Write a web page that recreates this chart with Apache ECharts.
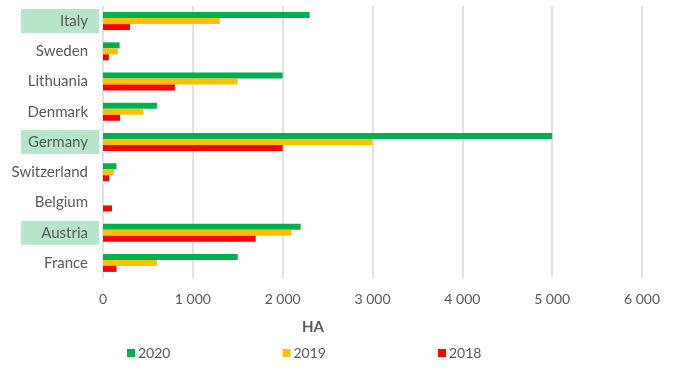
<!DOCTYPE html>
<html><head><meta charset="utf-8">
<script src="https://cdn.jsdelivr.net/npm/echarts@6/dist/echarts.min.js"></script>
<style>html,body{margin:0;padding:0;background:#fff}#c{width:690px;height:369px}</style>
</head><body><div id="c"></div>
<script>
const categories = ['Italy','Sweden','Lithuania','Denmark','Germany','Switzerland','Belgium','Austria','France'];
const highlighted = ['Italy','Germany','Austria'];
const s2020 = [2300, 185, 2000, 600, 5000, 150, 0, 2200, 1500];
const s2019 = [1300, 165, 1500, 450, 3000, 120, 0, 2100, 600];
const s2018 = [300, 65, 800, 190, 2000, 70, 100, 1700, 150];
const seriesNames = ['2020','2019','2018'];
const colors = ['#00B050','#FFC000','#FF0000'];
const axisName = 'HA';

const FONT = 'Lato';
const chart = echarts.init(document.getElementById('c'));
const data = [s2020, s2019, s2018];
chart.setOption({
  animation: false,
  textStyle: {fontFamily: FONT},
  title: {text: axisName, left: 297, top: 315, textStyle: {fontFamily: FONT, fontSize: 15, fontWeight: 'bold', color: '#595959'}},
  grid: {left: 103, right: 48, top: 6, bottom: 91, containLabel: false},
  legend: {
    data: seriesNames, left: 122, top: 341, itemWidth: 8, itemHeight: 8, itemGap: 112, icon: 'rect',
    textStyle: {fontFamily: FONT, fontSize: 14, color: '#595959', padding: [0, 0, 0, -2]}
  },
  xAxis: {
    type: 'value', min: 0, max: 6000, interval: 1000,
    axisLine: {show: false}, axisTick: {show: false},
    splitLine: {lineStyle: {color: '#d9d9d9', width: 1.5}},
    axisLabel: {margin: 14, color: '#595959', fontSize: 14, fontFamily: FONT,
      formatter: v => v >= 1000 ? Math.floor(v/1000) + ' ' + String(v%1000).padStart(3,'0') : String(v)}
  },
  yAxis: {
    type: 'category', data: categories, inverse: true,
    axisLine: {show: false}, axisTick: {show: false},
    axisLabel: {
      margin: 4, color: '#595959', fontSize: 15, fontFamily: FONT,
      formatter: v => highlighted.includes(v) ? '{hl|' + v + '}' : '{pl|' + v + '}',
      rich: {
        hl: {backgroundColor: '#b5e6c9', width: 67, height: 14, align: 'right', padding: [5, 11, 5, 0], color: '#595959', fontSize: 15, fontFamily: FONT},
        pl: {width: 67, height: 14, align: 'right', padding: [5, 11, 5, 0], color: '#595959', fontSize: 15, fontFamily: FONT}
      }
    }
  },
  series: seriesNames.map((n, i) => ({
    name: n, type: 'bar', data: data[i], barWidth: 6, barGap: '0%',
    itemStyle: {color: colors[i]}
  }))
});
</script></body></html>
